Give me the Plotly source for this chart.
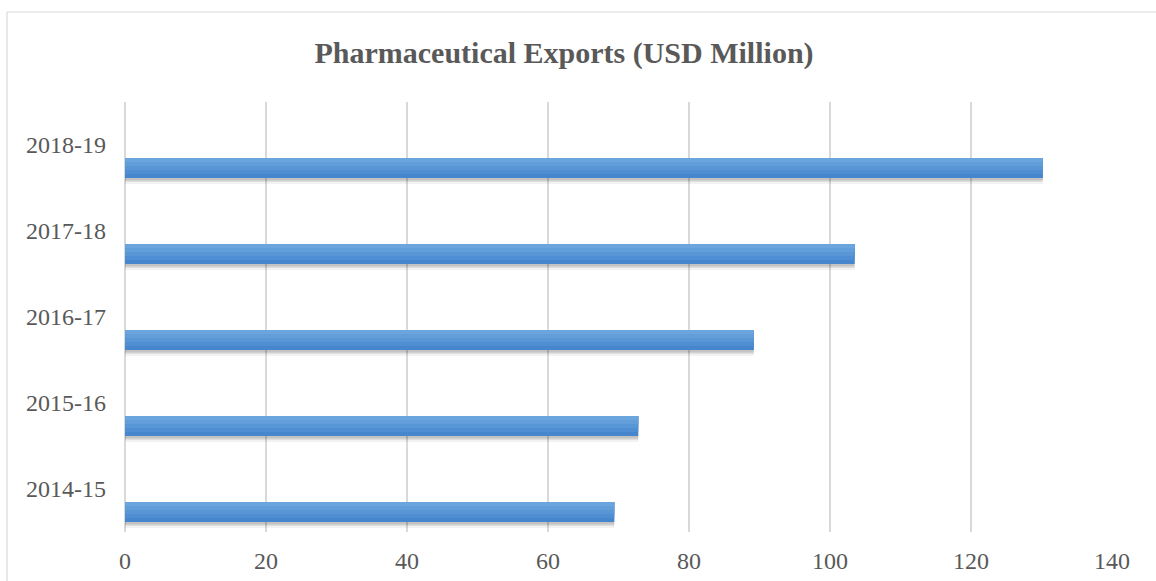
import plotly.graph_objects as go

# ---- data ----
years = ["2014-15", "2015-16", "2016-17", "2017-18", "2018-19"]
exports = [69.4, 72.8, 89.2, 103.5, 130.2]
x_ticks = [0, 20, 40, 60, 80, 100, 120, 140]

W, H = 1156, 581
L, R, T, B = 125, 44, 102, 49
band_px = (H - T - B) / len(years)  # pixels per category

fig = go.Figure()

def off(px):
    return -px / band_px

BAR_TOP, BAR_BOT = 13, 33

# shadow under bars
for bot, col in [(39, "rgba(0,0,0,0.05)"), (37, "rgba(0,0,0,0.08)"), (35.5, "rgba(0,0,0,0.12)")]:
    fig.add_trace(go.Bar(
        y=years, x=exports, orientation="h",
        offset=off(bot), width=(bot - BAR_TOP - 2) / band_px,
        marker=dict(color=col, line=dict(width=0)),
        hoverinfo="skip", showlegend=False))

# gradient main bar: nested layers all starting at the bar top
grad = [(20, "#4686cd"), (16, "#4f8ed2"), (12, "#5896d6"), (8, "#619eda"), (4, "#6aa5de")]
for h, col in grad:
    top = BAR_TOP
    bot = BAR_TOP + h
    fig.add_trace(go.Bar(
        y=years, x=exports, orientation="h",
        offset=off(bot), width=(bot - top) / band_px,
        marker=dict(color=col, line=dict(width=0)),
        hoverinfo="skip", showlegend=False))

font_family = "Liberation Serif, Times New Roman, serif"
txt_col = "#595959"

fig.update_layout(
    width=W, height=H,
    margin=dict(l=L, r=R, t=T, b=B, autoexpand=False),
    paper_bgcolor="white", plot_bgcolor="white",
    barmode="overlay",
    showlegend=False,
    font=dict(family=font_family, color=txt_col),
    title=dict(
        text="<b>Pharmaceutical Exports (USD Million)</b>",
        x=564 / W, xref="container", xanchor="center",
        y=1 - 52 / H, yref="container", yanchor="middle",
        font=dict(family=font_family, size=30, color=txt_col)),
    xaxis=dict(
        range=[0, 140], tickvals=x_ticks, automargin=False,
        showgrid=True, gridcolor="#d9d9d9", gridwidth=1.5,
        zeroline=True, zerolinecolor="#d9d9d9", zerolinewidth=1.5,
        showline=False, ticks="",
        tickfont=dict(size=24, color=txt_col, family=font_family),
        ticklabelstandoff=12),
    yaxis=dict(
        type="category", categoryorder="array", categoryarray=years,
        range=[-0.5, len(years) - 0.5], automargin=False,
        showgrid=False, zeroline=False, showline=False, ticks="",
        tickfont=dict(size=24, color=txt_col, family=font_family),
        ticklabelstandoff=18),
    shapes=[
        dict(type="line", xref="paper", yref="paper",
             x0=(7 - L) / (W - L - R), x1=(W + 5 - L) / (W - L - R),
             y0=(H - B - 12) / (H - T - B), y1=(H - B - 12) / (H - T - B),
             line=dict(color="#d9d9d9", width=1.2)),
        dict(type="line", xref="paper", yref="paper",
             x0=(7 - L) / (W - L - R), x1=(7 - L) / (W - L - R),
             y0=(H - B - 12) / (H - T - B), y1=(H - B - H - 5) / (H - T - B),
             line=dict(color="#d9d9d9", width=1.2)),
    ],
)

fig.write_html("out.html")
